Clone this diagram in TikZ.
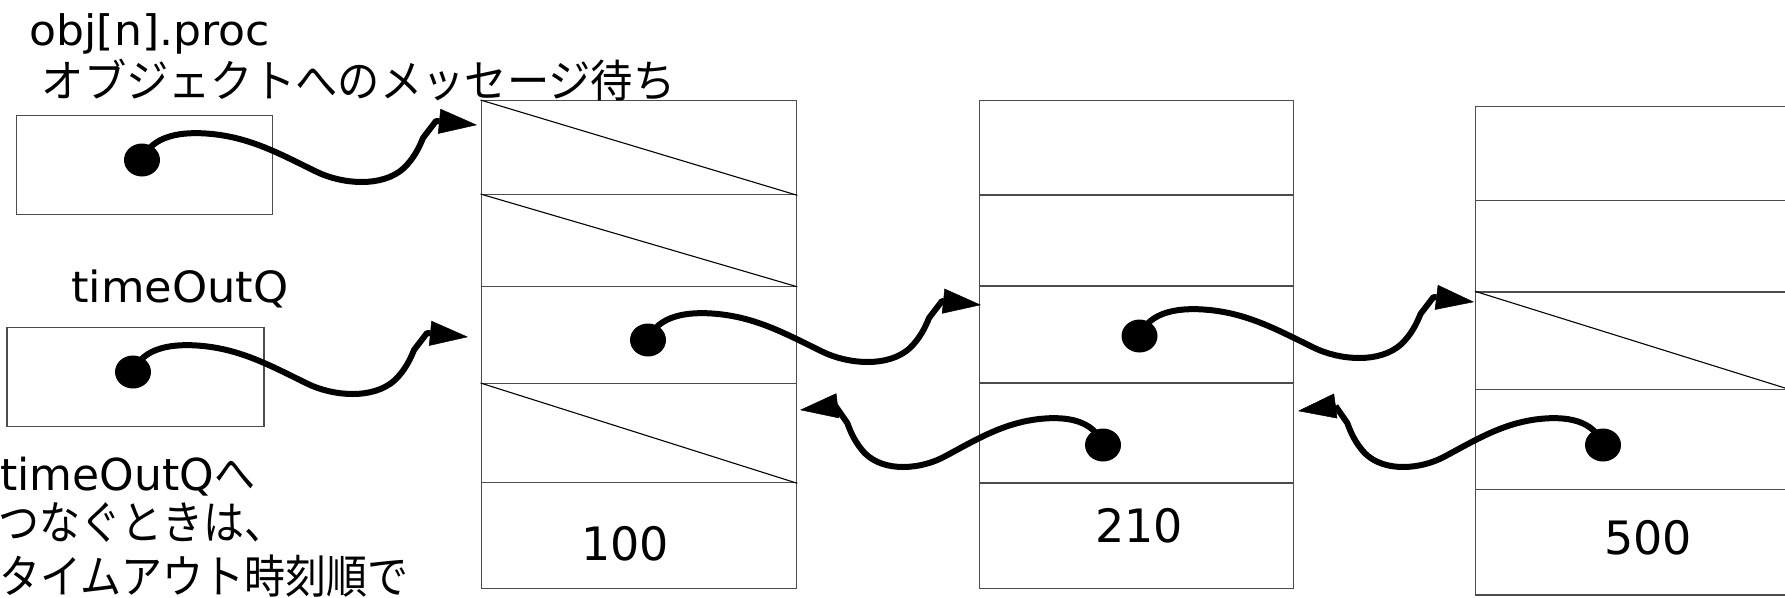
\documentclass[tikz,border=0pt]{standalone}
\usepackage{fontspec}
\usepackage{graphicx}
\newfontfamily\latf{DejaVu Sans}
\newfontfamily\jpf{Noto Sans CJK JP}
\usetikzlibrary{shapes.geometric,arrows.meta}
\begin{document}
\begin{tikzpicture}[x=1pt,y=-1pt,
  cellbox/.style={draw=black!70, line width=1.3pt, inner sep=0pt, anchor=north west},
  diagl/.style={line width=1.1pt, black},
  dotn/.style={ellipse, fill=black, inner sep=0pt, minimum width=36pt, minimum height=33pt},
  wiggle/.style={line width=6pt, line join=round, -{Triangle[length=38pt,width=25pt,line width=0.5pt]}},
  txtn/.style={anchor=base west, inner sep=0pt},
  numn/.style={inner sep=0pt, font=\latf\fontsize{46}{50}\selectfont}]
\useasboundingbox (0,0) rectangle (1785,597);
\clip (0,0) rectangle (1785,597);

% left boxes
\node[cellbox, minimum width=256pt, minimum height=99pt] (ob) at (15.5,115) {};
\node[cellbox, minimum width=257pt, minimum height=99pt] (tq) at (6.3,327) {};

% column A
\node[cellbox, minimum width=315.5pt, minimum height=94pt]  (A1) at (480.5,100) {};
\node[cellbox, minimum width=315.5pt, minimum height=91.5pt] (A2) at (480.5,194) {};
\node[cellbox, minimum width=315.5pt, minimum height=97.5pt] (A3) at (480.5,285.5) {};
\node[cellbox, minimum width=315.5pt, minimum height=99pt]  (A4) at (480.5,383) {};
\node[cellbox, minimum width=315.5pt, minimum height=106pt] (A5) at (480.5,482) {};
% column B
\node[cellbox, minimum width=314pt, minimum height=94.3pt] (B1) at (978.5,100) {};
\node[cellbox, minimum width=314pt, minimum height=91pt]   (B2) at (978.5,194.3) {};
\node[cellbox, minimum width=314pt, minimum height=97pt]   (B3) at (978.5,285.3) {};
\node[cellbox, minimum width=314pt, minimum height=100pt]  (B4) at (978.5,382.3) {};
\node[cellbox, minimum width=314pt, minimum height=105.7pt] (B5) at (978.5,482.3) {};
% column C
\node[cellbox, minimum width=315pt, minimum height=94pt]   (C1) at (1475,106) {};
\node[cellbox, minimum width=315pt, minimum height=91.3pt] (C2) at (1475,200) {};
\node[cellbox, minimum width=315pt, minimum height=97.4pt] (C3) at (1475,291.3) {};
\node[cellbox, minimum width=315pt, minimum height=100pt]  (C4) at (1475,388.7) {};
\node[cellbox, minimum width=315pt, minimum height=105.6pt] (C5) at (1475,488.7) {};

% diagonals (empty slots)
\draw[diagl] (A1.north west) -- (A1.south east);
\draw[diagl] (A2.north west) -- (A2.south east);
\draw[diagl] (A4.north west) -- (A4.south east);
\draw[diagl] (C3.north west) -- (C3.south east);

% numbers
\node[numn] (nA) at (625,543.5) {100};
\node[numn] (nB) at (1139,525.5) {210};
\node[numn] (nC) at (1648,537.5) {500};

% dots and tips
\node[dotn] (d1) at (142,160) {};
\node[dotn] (d2) at (133,372) {};
\node[dotn] (d3) at (648,340) {};
\node[dotn] (d4) at (1139.5,336) {};
\node[dotn] (d5) at (1103,445) {};
\node[dotn] (d6) at (1603,445) {};
\coordinate (t1) at (477,125);
\coordinate (t2) at (468,337);
\coordinate (t3) at (981,305);
\coordinate (t4) at (1474,302);
\coordinate (t5) at (800,410);
\coordinate (t6) at (1298,411);

% wiggly pointers to the right
\foreach \d/\t in {d1/t1, d2/t2, d3/t3, d4/t4}{
  \draw[wiggle, shift={(\d.center)}] (\d.center)
    .. controls (10,-25) and (40,-29) .. (70,-26)
    .. controls (110,-22) and (140,-5) .. (175,12)
    .. controls (200,24) and (240,28) .. (262,8)
    .. controls (272,-2) and (277,-12) .. (281,-22)
    -- (294,-39) -- (\t);
}
% wiggly pointers to the left
\foreach \d/\t in {d5/t5, d6/t6}{
  \draw[wiggle, shift={(\d.center)}, xscale=-0.91] (\d.center)
    .. controls (10,-25) and (40,-29) .. (70,-26)
    .. controls (110,-22) and (140,-5) .. (175,12)
    .. controls (200,24) and (240,28) .. (262,8)
    .. controls (272,-2) and (277,-12) .. (281,-22)
    -- (294,-39) -- (\t);
}

% texts
\node[txtn, font=\latf\fontsize{42}{46}\selectfont] (lblA) at (29.5,45) {\scalebox{1.05}[1]{obj[n].proc}};
\node[txtn, font=\jpf\fontsize{42.3}{46}\selectfont] (lblB) at (41.5,97) {\scalebox{1}[1.06]{オブジェクトへのメッセージ待ち}};
\node[txtn, font=\latf\fontsize{43}{46}\selectfont] (lblC) at (71,302) {\scalebox{1.04}[1]{timeOutQ}};
\node[txtn] (n1) at (0,490) {{\latf\fontsize{44}{48}\selectfont timeOutQ}{\jpf\fontsize{41}{44}\selectfont\scalebox{1}[1.12]{へ}}};
\node[txtn, font=\jpf\fontsize{41}{44}\selectfont] (n2) at (-2,539) {\scalebox{1}[1.12]{つなぐときは、}};
\node[txtn, font=\jpf\fontsize{41}{44}\selectfont] (n3) at (-1,593) {\scalebox{1}[1.12]{タイムアウト時刻順で}};
\end{tikzpicture}
\end{document}
